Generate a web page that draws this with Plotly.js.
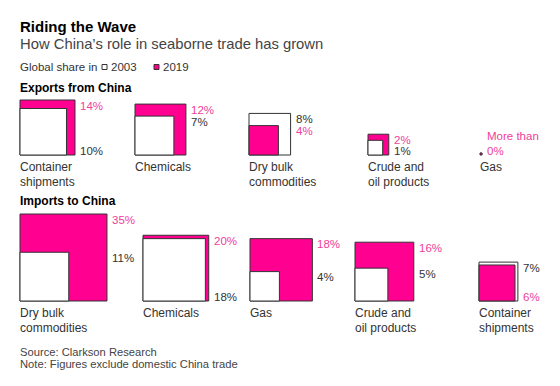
<!DOCTYPE html>
<html><head><meta charset="utf-8">
<script src="https://cdn.plot.ly/plotly-3.0.1.min.js"></script>
<style>html,body{margin:0;padding:0;background:#fff}#chart{width:560px;height:386px}</style>
</head><body><div id="chart"></div>
<script>
// ---- data ----
const exportCategories = ['Container<br>shipments','Chemicals','Dry bulk<br>commodities','Crude and<br>oil products','Gas'];
const exportShare2003 = [10, 7, 8, 1, 0];
const exportShare2019 = [14, 12, 4, 2, 0.02];
const exportLabel2003 = ['10%','7%','8%','1%',''];
const exportLabel2019 = ['14%','12%','4%','2%','More than<br>0%'];

const importCategories = ['Dry bulk<br>commodities','Chemicals','Gas','Crude and<br>oil products','Container<br>shipments'];
const importShare2003 = [11, 18, 4, 5, 7];
const importShare2019 = [35, 20, 18, 16, 6];
const importLabel2003 = ['11%','18%','4%','5%','7%'];
const importLabel2019 = ['35%','20%','18%','16%','6%'];

// ---- layout settings ----
const K = 14.7;               // px per sqrt(percentage point)
const MAG = '#ff0090';
const MAGTXT = '#f0409a';
const DARK = '#333333';
const FONT = 'Liberation Sans, Arial, sans-serif';
const rows = [
  {cats: exportCategories, v03: exportShare2003, v19: exportShare2019, l03: exportLabel2003, l19: exportLabel2019,
   lefts: [20,135,249,368,480], base: 155,
   place03: ['bottom','top','top','top','top'], place19: ['top','top','top','top','bottom']},
  {cats: importCategories, v03: importShare2003, v19: importShare2019, l03: importLabel2003, l19: importLabel2019,
   lefts: [20,143,250,355,479], base: 301,
   place03: ['top','bottom','top','top','top'], place19: ['top','top','top','top','bottom']}
];

const shapes = [];
const annotations = [];
function txt(x, y, text, size, color, bold, xanchor) {
  annotations.push({x: x, y: y, xref: 'x', yref: 'y', text: bold ? '<b>' + text + '</b>' : text,
    showarrow: false, xanchor: xanchor || 'left', yanchor: 'middle',
    font: {family: FONT, size: size, color: color}, borderpad: 0});
}
function sq(left, base, side, fill) {
  shapes.push({type: 'rect', xref: 'x', yref: 'y', x0: left, x1: left + side, y0: base - side, y1: base,
    fillcolor: fill, line: {color: DARK, width: 1}, layer: 'above'});
}

rows.forEach(r => {
  r.cats.forEach((c, i) => {
    const left = r.lefts[i];
    const s03 = K * Math.sqrt(r.v03[i]);
    const s19 = K * Math.sqrt(r.v19[i]);
    const items = [
      {side: s03, fill: '#ffffff', label: r.l03[i], color: DARK, place: r.place03[i]},
      {side: s19, fill: MAG, label: r.l19[i], color: MAGTXT, place: r.place19[i]}
    ];
    // draw larger first
    items.slice().sort((a, b) => b.side - a.side).forEach(it => { if (it.side > 0) sq(left, r.base, Math.max(it.side, 2), it.fill); });
    const lx = left + Math.max(s03, s19, 2) + 4;
    // label positions
    const labs = items.filter(it => it.label).map(it => {
      const lines = it.label.split('<br>');
      let yc;
      if (it.place === 'bottom') yc = r.base - 4 - (lines.length - 1) * 15;
      else yc = r.base - it.side + 5.5;
      return {lines: lines, yc: yc, color: it.color};
    }).sort((a, b) => a.yc - b.yc);
    for (let j = 1; j < labs.length; j++) {
      const prevEnd = labs[j-1].yc + (labs[j-1].lines.length - 1) * 15;
      if (labs[j].yc - prevEnd < 11) labs[j].yc = prevEnd + 11;
    }
    labs.forEach(l => l.lines.forEach((t, k) => txt(lx, l.yc + k * 15, t, 11.5, l.color, false)));
    // category label
    c.split('<br>').forEach((t, k) => txt(left - 1, r.base + 12 + k * 14.5, t, 12, DARK, false));
  });
});

// headings
txt(19, 26, 'Riding the Wave', 15, '#000000', true);
txt(19, 43.5, 'How China\u2019s role in seaborne trade has grown', 14.8, '#444444', false);
txt(19, 67, 'Global share in', 11.5, DARK, false);
txt(110, 67, '2003', 11.5, DARK, false);
txt(162, 67, '2019', 11.5, DARK, false);
shapes.push({type:'rect', xref:'x', yref:'y', x0:102, x1:107, y0:64.5, y1:69.5, fillcolor:'#fff', line:{color:DARK,width:1}});
shapes.push({type:'rect', xref:'x', yref:'y', x0:154, x1:159, y0:64.5, y1:69.5, fillcolor:MAG, line:{color:DARK,width:1}});
txt(19, 88, 'Exports from China', 12, '#000000', true);
txt(19, 201, 'Imports to China', 12, '#000000', true);
txt(19, 352, 'Source: Clarkson Research', 11.2, '#444444', false);
txt(19, 364, 'Note: Figures exclude domestic China trade', 11.2, '#444444', false);

Plotly.newPlot('chart', [{x: [], y: [], type: 'scatter', mode: 'markers', hoverinfo: 'skip', showlegend: false}], {
  width: 560, height: 386, margin: {l: 0, r: 0, t: 0, b: 0},
  paper_bgcolor: '#fff', plot_bgcolor: '#fff',
  xaxis: {range: [0, 560], visible: false, fixedrange: true},
  yaxis: {range: [386, 0], visible: false, fixedrange: true},
  showlegend: false, shapes: shapes, annotations: annotations
}, {staticPlot: true});
</script></body></html>
